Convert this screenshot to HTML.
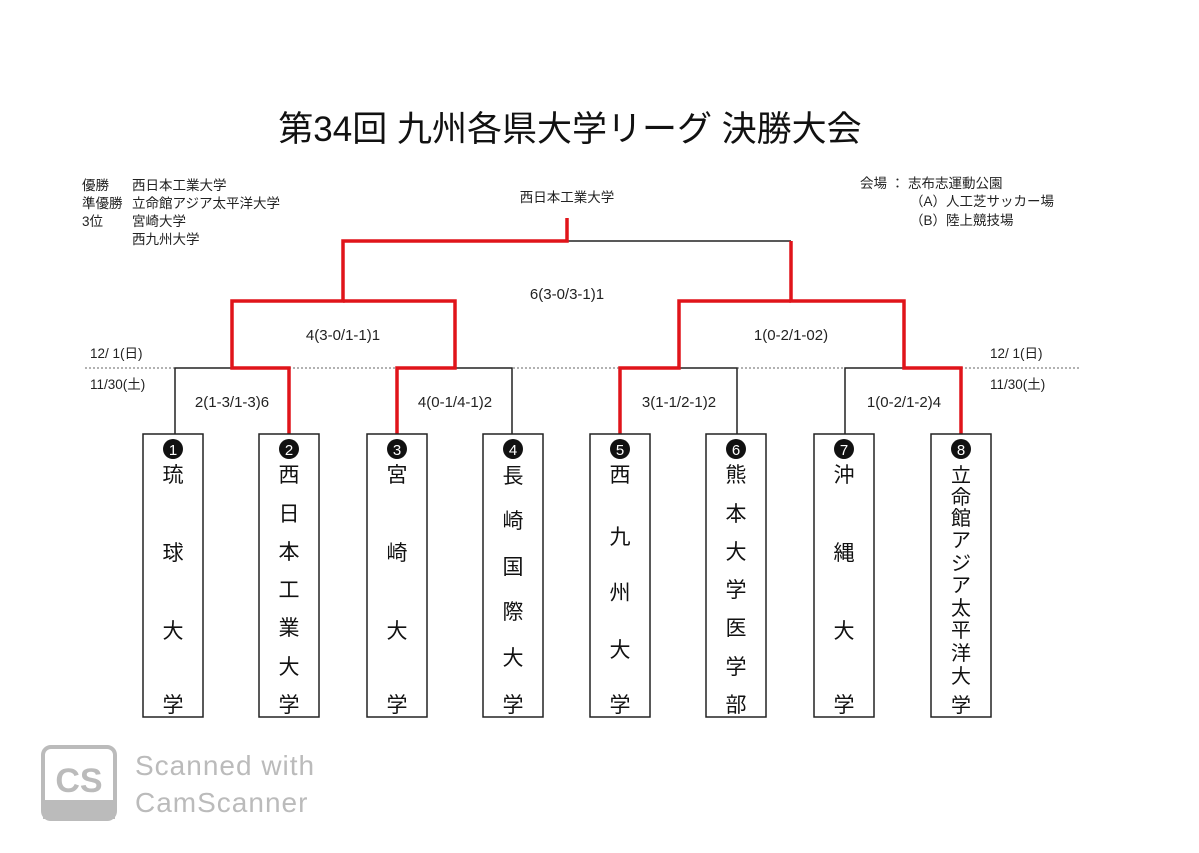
<!DOCTYPE html>
<html><head><meta charset="utf-8"><style>
body{margin:0;background:#fff;}
svg text{font-family:"Liberation Sans","Noto Sans CJK JP",sans-serif;}
</style></head><body>
<svg width="1199" height="848" viewBox="0 0 1199 848" xmlns="http://www.w3.org/2000/svg">
<rect width="1199" height="848" fill="#fff"/>
<text x="570" y="141" font-size="35" text-anchor="middle" fill="#111">第34回 九州各県大学リーグ 決勝大会</text>
<g font-size="13.5" fill="#222">
<text x="82" y="190">優勝</text><text x="132" y="190">西日本工業大学</text>
<text x="82" y="208">準優勝</text><text x="132" y="208">立命館アジア太平洋大学</text>
<text x="82" y="226">3位</text><text x="132" y="226">宮崎大学</text>
<text x="132" y="244">西九州大学</text>
<text x="860" y="188">会場 ： 志布志運動公園</text>
<text x="910" y="206">（A）人工芝サッカー場</text>
<text x="910" y="225">（B）陸上競技場</text>
<text x="567" y="202" text-anchor="middle">西日本工業大学</text>
<text x="90" y="358">12/  1(日)</text><text x="90" y="389">11/30(土)</text>
<text x="990" y="358">12/  1(日)</text><text x="990" y="389">11/30(土)</text>
</g>
<g font-size="15" fill="#222" text-anchor="middle">
<text x="567" y="299">6(3-0/3-1)1</text>
<text x="343" y="340">4(3-0/1-1)1</text>
<text x="791" y="340">1(0-2/1-02)</text>
<text x="232" y="407">2(1-3/1-3)6</text>
<text x="455" y="407">4(0-1/4-1)2</text>
<text x="679" y="407">3(1-1/2-1)2</text>
<text x="904" y="407">1(0-2/1-2)4</text>
</g>
<line x1="85" y1="368" x2="1080" y2="368" stroke="#666" stroke-width="1" stroke-dasharray="2,2"/>
<g stroke="#222" stroke-width="1.5" fill="none">
<line x1="567" y1="241" x2="791" y2="241"/>
<line x1="343" y1="301" x2="455" y2="301"/>
<line x1="679" y1="301" x2="791" y2="301"/>
<polyline points="232,368 175,368 175,434"/>
<polyline points="455,368 512,368 512,434"/>
<polyline points="679,368 737,368 737,434"/>
<polyline points="904,368 845,368 845,434"/>
</g>
<g stroke="#e0141a" stroke-width="3.5" fill="none">
<polyline points="567,218 567,241 343,241 343,301 232,301 232,368 289,368 289,434"/>
<polyline points="343,301 455,301 455,368 397,368 397,434"/>
<polyline points="791,241 791,301 904,301 904,368 961,368 961,434"/>
<polyline points="791,301 679,301 679,368 620,368 620,434"/>
</g>
<g stroke="#222" stroke-width="1.5" fill="#fff">
<rect x="143" y="434" width="60" height="283"/>
<rect x="259" y="434" width="60" height="283"/>
<rect x="367" y="434" width="60" height="283"/>
<rect x="483" y="434" width="60" height="283"/>
<rect x="590" y="434" width="60" height="283"/>
<rect x="706" y="434" width="60" height="283"/>
<rect x="814" y="434" width="60" height="283"/>
<rect x="931" y="434" width="60" height="283"/>
</g>
<g fill="#111">
<circle cx="173" cy="449" r="10"/><circle cx="289" cy="449" r="10"/><circle cx="397" cy="449" r="10"/><circle cx="513" cy="449" r="10"/>
<circle cx="620" cy="449" r="10"/><circle cx="736" cy="449" r="10"/><circle cx="844" cy="449" r="10"/><circle cx="961" cy="449" r="10"/>
</g>
<g fill="#fff" font-size="15" text-anchor="middle">
<text x="173" y="455">1</text><text x="289" y="455">2</text><text x="397" y="455">3</text><text x="513" y="455">4</text>
<text x="620" y="455">5</text><text x="736" y="455">6</text><text x="844" y="455">7</text><text x="961" y="455">8</text>
</g>
<g font-size="21" fill="#111" text-anchor="middle">
<text x="173" y="482">琉</text><text x="173" y="560">球</text><text x="173" y="638">大</text><text x="173" y="712">学</text>
<text x="289" y="482">西</text><text x="289" y="521">日</text><text x="289" y="559">本</text><text x="289" y="597">工</text><text x="289" y="635">業</text><text x="289" y="674">大</text><text x="289" y="712">学</text>
<text x="397" y="482">宮</text><text x="397" y="560">崎</text><text x="397" y="638">大</text><text x="397" y="712">学</text>
<text x="513" y="483">長</text><text x="513" y="528">崎</text><text x="513" y="574">国</text><text x="513" y="619">際</text><text x="513" y="665">大</text><text x="513" y="712">学</text>
<text x="620" y="482">西</text><text x="620" y="544">九</text><text x="620" y="600">州</text><text x="620" y="657">大</text><text x="620" y="712">学</text>
<text x="736" y="482">熊</text><text x="736" y="521">本</text><text x="736" y="559">大</text><text x="736" y="597">学</text><text x="736" y="635">医</text><text x="736" y="674">学</text><text x="736" y="712">部</text>
<text x="844" y="482">沖</text><text x="844" y="560">縄</text><text x="844" y="638">大</text><text x="844" y="712">学</text>
</g>
<g font-size="20" fill="#111" text-anchor="middle">
<text x="961" y="482">立</text><text x="961" y="504">命</text><text x="961" y="525">館</text><text x="961" y="547">ア</text><text x="961" y="570">ジ</text><text x="961" y="592">ア</text><text x="961" y="615">太</text><text x="961" y="637">平</text><text x="961" y="660">洋</text><text x="961" y="683">大</text><text x="961" y="712">学</text>
</g>
<g>
<rect x="43" y="747" width="72" height="72" rx="8" fill="none" stroke="#bbb" stroke-width="4"/>
<rect x="43" y="800" width="72" height="19" fill="#bbb"/>
<text x="79" y="792" font-size="34" font-weight="bold" fill="#bbb" text-anchor="middle">CS</text>
<text x="135" y="775" font-size="28" fill="#bbb" letter-spacing="1">Scanned  with</text>
<text x="135" y="812" font-size="28" fill="#bbb" letter-spacing="1">CamScanner</text>
</g>
</svg>
</body></html>
